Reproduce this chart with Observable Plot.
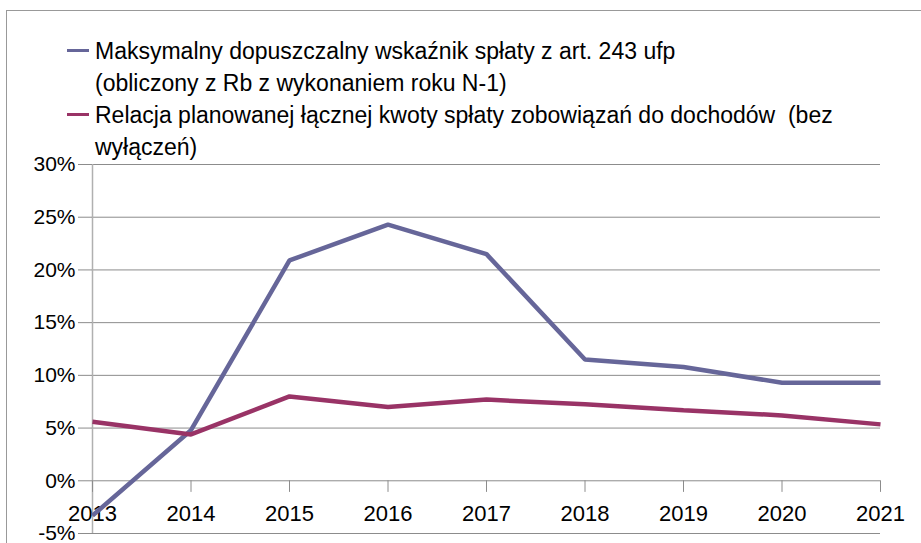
<!DOCTYPE html>
<html>
<head>
<meta charset="utf-8">
<script src="https://cdn.jsdelivr.net/npm/d3@7"></script>
<script src="https://cdn.jsdelivr.net/npm/@observablehq/plot@0.6"></script>
<style>
  html, body { margin: 0; padding: 0; background: #fff; }
  #wrap { position: relative; width: 921px; height: 543px; overflow: hidden; font-family: "Liberation Sans", Arial, sans-serif; }
  #frame { position: absolute; left: 6px; top: 10px; width: 930px; height: 560px; border-top: 1px solid #999; border-left: 1px solid #999; }
  #legend { position: absolute; left: 67px; top: 35px; font-size: 23px; line-height: 32px; color: #000; }
  .item { position: relative; padding-left: 28px; white-space: pre; }
  .swatch { position: absolute; left: 0; top: 14px; width: 22px; height: 3px; }
  #chart { position: absolute; left: 0; top: 140px; }
</style>
</head>
<body>
<div id="wrap">
  <div id="frame"></div>
  <div id="legend"></div>
  <div id="chart"></div>
</div>
<script>
const years = [2013, 2014, 2015, 2016, 2017, 2018, 2019, 2020, 2021];
const maxRate = [-3.3, 4.8, 20.9, 24.3, 21.5, 11.5, 10.8, 9.3, 9.3];
const plannedRatio = [5.6, 4.4, 8.0, 7.0, 7.7, 7.25, 6.7, 6.2, 5.35];
const yTicks = [-5, 0, 5, 10, 15, 20, 25, 30];
const seriesNames = [
  "Maksymalny dopuszczalny wskaźnik spłaty z art. 243 ufp\n(obliczony z Rb z wykonaniem roku N-1)",
  "Relacja planowanej łącznej kwoty spłaty zobowiązań do dochodów  (bez\nwyłączeń)"
];
const colors = ["#666699", "#993366"];

const data = [];
years.forEach((y, i) => {
  data.push({year: y, value: maxRate[i], series: seriesNames[0]});
  data.push({year: y, value: plannedRatio[i], series: seriesNames[1]});
});

// legend
const legend = document.getElementById("legend");
seriesNames.forEach((name, i) => {
  const div = document.createElement("div");
  div.className = "item";
  const sw = document.createElement("span");
  sw.className = "swatch";
  sw.style.background = colors[i];
  div.appendChild(sw);
  div.appendChild(document.createTextNode(name));
  legend.appendChild(div);
});

const chart = Plot.plot({
  width: 921,
  height: 403,
  marginTop: 24,
  marginBottom: 10,
  marginLeft: 92,
  marginRight: 41,
  style: {fontFamily: '"Liberation Sans", Arial, sans-serif', fontSize: "21px", color: "#000", background: "transparent", overflow: "visible"},
  x: {type: "linear", domain: [2013, 2021], axis: null},
  y: {domain: [-5, 30], axis: null},
  color: {domain: seriesNames, range: colors},
  marks: [
    Plot.ruleY(yTicks, {stroke: "#8c8c8c", strokeWidth: 1}),
    Plot.ruleX([years[0]], {stroke: "#b0b0b0", strokeWidth: 1.5}),
    Plot.axisY({ticks: yTicks, tickFormat: d => d + "%", tickSize: 14, tickPadding: 3, stroke: "#8c8c8c", fontSize: 21, fill: "#000", label: null}),
    Plot.ruleX(years, {x: d => d, y1: 0, y2: -1.1, stroke: "#8c8c8c", strokeWidth: 1}),
    Plot.text(years, {x: d => d, y: 0, dy: 33, text: d => String(d), fontSize: 22, fill: "#000"}),
    Plot.line(data, {x: "year", y: "value", z: "series", stroke: "series", strokeWidth: 4.5, strokeLinejoin: "miter", strokeLinecap: "butt"})
  ]
});
document.getElementById("chart").appendChild(chart);
</script>
</body>
</html>
